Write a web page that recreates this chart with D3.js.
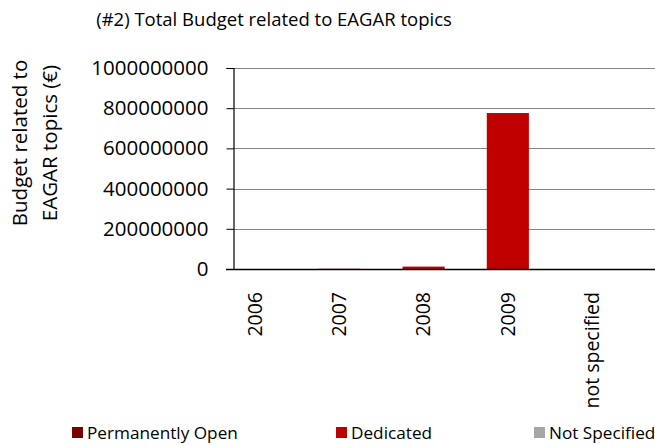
<!DOCTYPE html>
<html>
<head>
<meta charset="utf-8">
<script src="https://cdn.jsdelivr.net/npm/d3@7"></script>
<style>
  body { margin: 0; background: #fff; }
  svg { display: block; font-family: "Open Sans", sans-serif; }
</style>
</head>
<body>
<div id="chart"></div>
<script>
// data
const years = ['2006', '2007', '2008', '2009', 'not specified'];
const seriesNames = ['Permanently Open', 'Dedicated', 'Not Specified'];
const seriesColors = ['#7b0000', '#c00000', '#a6a6a6'];
const permanentlyOpen = [0, 1000000, 0, 0, 0];
const dedicated = [0, 0, 12000000, 776000000, 0];
const notSpecified = [0, 0, 0, 0, 0];
const yTicks = [0, 200000000, 400000000, 600000000, 800000000, 1000000000];

const W = 655, H = 446;
const plot = { left: 233, right: 655, top: 68, bottom: 269 };

const svg = d3.select('#chart').append('svg')
    .attr('width', W)
    .attr('height', H);

// stacked rows
const rows = years.map((y, i) => ({
    year: y,
    'Permanently Open': permanentlyOpen[i],
    'Dedicated': dedicated[i],
    'Not Specified': notSpecified[i]
}));
const stack = d3.stack().keys(seriesNames)(rows);

const x = d3.scaleBand()
    .domain(years)
    .range([213, 634.2])
    .paddingInner(0.5)
    .paddingOuter(0.25);

const y = d3.scaleLinear()
    .domain([0, 1000000000])
    .range([plot.bottom, plot.top]);

// title
svg.append('text')
    .attr('x', 274)
    .attr('y', 26)
    .attr('text-anchor', 'middle')
    .style('font-size', '18.5px')
    .style('fill', '#000')
    .text('(#2) Total Budget related to EAGAR topics');

// gridlines
svg.append('g')
    .selectAll('line')
    .data(yTicks.filter(d => d > 0))
    .join('line')
    .attr('x1', plot.left)
    .attr('x2', plot.right)
    .attr('y1', d => Math.round(y(d)) + 0.5)
    .attr('y2', d => Math.round(y(d)) + 0.5)
    .attr('stroke', '#868686')
    .attr('stroke-width', 1);

// bars
svg.append('g')
    .selectAll('g')
    .data(stack)
    .join('g')
    .attr('fill', (d, i) => seriesColors[i])
    .selectAll('rect')
    .data(d => d)
    .join('rect')
    .attr('x', d => x(d.data.year))
    .attr('width', x.bandwidth())
    .attr('y', d => y(d[1]))
    .attr('height', d => Math.max(0, y(d[0]) - y(d[1])));

// y axis
const yAxis = svg.append('g')
    .attr('transform', `translate(${plot.left + 0.5},0)`)
    .call(d3.axisLeft(y).tickValues(yTicks).tickFormat(d3.format('d')).tickSize(7).tickPadding(18));
yAxis.select('.domain').attr('stroke', '#000').attr('stroke-width', 1.2);
yAxis.selectAll('.tick line').attr('stroke', '#000');
yAxis.selectAll('text')
    .style('font-size', '20.5px')
    .style('fill', '#000')
    .style('font-family', '"Open Sans", sans-serif');

// x axis line
svg.append('line')
    .attr('x1', plot.left - 7)
    .attr('x2', plot.right)
    .attr('y1', plot.bottom + 0.5)
    .attr('y2', plot.bottom + 0.5)
    .attr('stroke', '#000')
    .attr('stroke-width', 1.4);

// x labels, rotated
svg.append('g')
    .selectAll('text')
    .data(years)
    .join('text')
    .attr('transform', d => `translate(${x(d) + x.bandwidth() / 2},292) rotate(-90)`)
    .attr('dy', '0.35em')
    .attr('text-anchor', 'end')
    .style('font-size', '19.5px')
    .style('fill', '#000')
    .text(d => d);

// y title
const yTitle = svg.append('text')
    .attr('transform', 'translate(31,143) rotate(-90)')
    .attr('text-anchor', 'middle')
    .style('font-size', '20.5px')
    .style('fill', '#000');
yTitle.append('tspan').attr('x', 0).attr('dy', '-0.2em').text('Budget related to');
yTitle.append('tspan').attr('x', 0).attr('dy', '1.45em').text('EAGAR topics (€)');

// legend
const legendX = [72, 336, 534];
const legend = svg.append('g')
    .selectAll('g')
    .data(seriesNames)
    .join('g')
    .attr('transform', (d, i) => `translate(${legendX[i]},427)`);
legend.append('rect')
    .attr('width', 11)
    .attr('height', 11)
    .attr('fill', (d, i) => seriesColors[i]);
legend.append('text')
    .attr('x', 15)
    .attr('y', 6)
    .attr('dy', '0.35em')
    .style('font-size', '17.2px')
    .style('fill', '#000')
    .text(d => d);
</script>
</body>
</html>
